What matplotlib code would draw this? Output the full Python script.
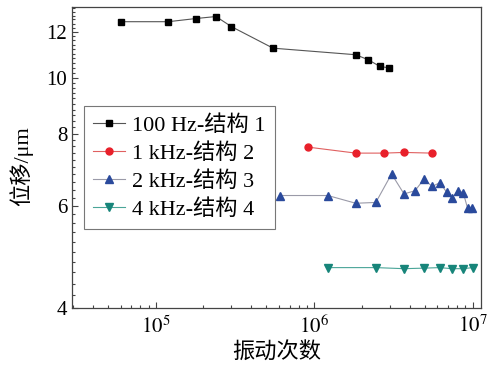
# Displacement vs. vibration cycles, four frequency/structure cases
import numpy as np
import matplotlib.pyplot as plt
from matplotlib.ticker import MultipleLocator, LogLocator, NullFormatter

plt.rcParams['font.family'] = ['Liberation Serif', 'Noto Sans CJK SC']
plt.rcParams['mathtext.fontset'] = 'stix'

# data
n_100hz = [6.0e4, 1.2e5, 1.8e5, 2.4e5, 3.0e5, 5.5e5, 1.83e6, 2.2e6, 2.6e6, 2.98e6]
d_100hz = [12.49, 12.49, 12.65, 12.75, 12.25, 11.24, 10.95, 10.73, 10.45, 10.39]

n_1khz = [9.1e5, 1.83e6, 2.76e6, 3.69e6, 5.54e6]
d_1khz = [7.58, 7.40, 7.40, 7.42, 7.40]

n_2khz = [6.07e5, 1.22e6, 1.83e6, 2.45e6, 3.08e6, 3.69e6, 4.33e6, 4.93e6,
          5.56e6, 6.22e6, 6.86e6, 7.44e6, 8.05e6, 8.73e6, 9.3e6, 9.95e6]
d_2khz = [6.25, 6.25, 6.06, 6.08, 6.81, 6.29, 6.37, 6.67,
          6.48, 6.58, 6.33, 6.19, 6.37, 6.32, 5.94, 5.95]

n_4khz = [1.22e6, 2.45e6, 3.69e6, 4.93e6, 6.2e6, 7.4e6, 8.73e6, 1.0e7]
d_4khz = [4.69, 4.69, 4.67, 4.68, 4.69, 4.67, 4.67, 4.69]

labels = ['100 Hz-结构 1', '1 kHz-结构 2', '2 kHz-结构 3', '4 kHz-结构 4']
y_ticks = [4, 6, 8, 10, 12]
x_ticks = [1e5, 1e6, 1e7]
x_tick_labels = ['$10^5$', '$10^6$', '$10^7$']

fig = plt.figure(figsize=(5, 3.71), dpi=100)
ax = fig.add_axes([0.144, 0.171, 0.818, 0.811])

ax.plot(n_100hz, d_100hz, color='#555555', lw=0.8, marker='s', ms=4.3,
        mfc='black', mec='black', label=labels[0])
ax.plot(n_1khz, d_1khz, color='#e06060', lw=0.8, marker='o', ms=5,
        mfc='#e8202a', mec='#e8202a', label=labels[1])
ax.plot(n_2khz, d_2khz, color='#9a9aa8', lw=0.8, marker='^', ms=5.5,
        mfc='#2a4a9c', mec='#2a4a9c', label=labels[2])
ax.plot(n_4khz, d_4khz, color='#4aa598', lw=0.8, marker='v', ms=5.5,
        mfc='#17857a', mec='#17857a', label=labels[3])

ax.set_xscale('log')
ax.set_yscale('log')
ax.set_xlim(2.96e4, 1.13e7)
ax.set_ylim(4, 13.26)

ax.set_yticks(y_ticks, labels=[str(t) for t in y_ticks])
ax.yaxis.set_minor_locator(MultipleLocator(0.2))
ax.yaxis.set_minor_formatter(NullFormatter())
ax.set_xticks(x_ticks, labels=x_tick_labels)
ax.xaxis.set_minor_locator(LogLocator(subs=np.arange(2, 10)))
ax.xaxis.set_minor_formatter(NullFormatter())

ax.tick_params(which='both', direction='in', color='#444444', width=0.8,
               labelsize=15, top=False, right=False)
ax.tick_params(which='major', length=4.5)
ax.tick_params(which='minor', length=2.5)
ax.tick_params(axis='x', pad=6)
for s in ax.spines.values():
    s.set_color('#444444')
    s.set_linewidth(0.9)

ax.set_xlabel('振动次数', fontsize=16, labelpad=3)
ax.set_ylabel('位移/μm', fontsize=16)
ax.yaxis.set_label_coords(-0.095, 0.47)

leg = ax.legend(loc='upper left', bbox_to_anchor=(0.029, 0.670), borderaxespad=0,
                fontsize=16, handlelength=1.45, handletextpad=0.3,
                labelspacing=0.32, borderpad=0.42, fancybox=False,
                edgecolor='#777777', framealpha=1)
leg.get_frame().set_linewidth(0.8)

fig.savefig('out.png', dpi=100)
